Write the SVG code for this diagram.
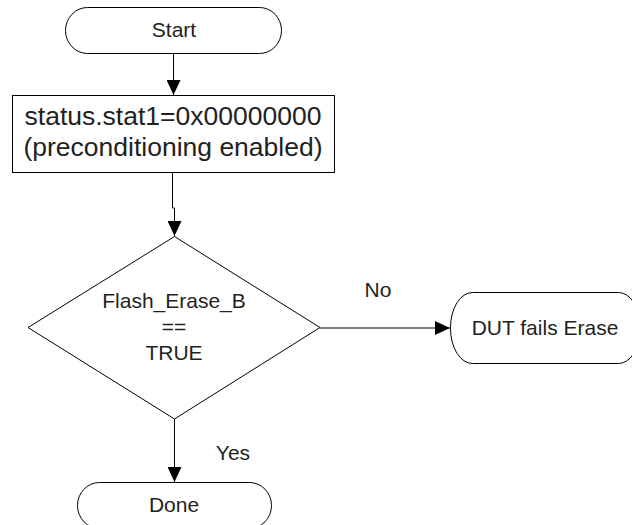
<svg xmlns="http://www.w3.org/2000/svg" width="632" height="525" viewBox="0 0 632 525">
<defs>
<style>
.shape{fill:#fff;stroke:#000;stroke-width:1}
.conn{fill:none;stroke:#000;stroke-width:1}
.t{font-family:"Liberation Sans",Arial,sans-serif;fill:#231f20;text-anchor:middle}
.s21{font-size:21px}
.s26{font-size:26.5px}
</style>
<marker id="arr" viewBox="0 0 15 14" refX="15" refY="7" markerWidth="15" markerHeight="14" markerUnits="userSpaceOnUse" orient="auto">
<path d="M0,0 L15,7 L0,14 Z" fill="#000"/>
</marker>
</defs>
<rect width="632" height="525" fill="#fff"/>
<g id="connectors">
<path class="conn" d="M173.5,53 V95" marker-end="url(#arr)"/>
<path class="conn" d="M172.5,173 V208 H174.5 V236" marker-end="url(#arr)"/>
<path class="conn" d="M174.5,419 V482" marker-end="url(#arr)"/>
<path class="conn" d="M320,328 H450" marker-end="url(#arr)"/>
<text class="t s21" x="378" y="297">No</text>
<text class="t s21" x="233" y="460">Yes</text>
</g>
<g id="start">
<rect class="shape" x="65.5" y="7.5" width="216" height="46" rx="22" ry="23"/>
<text class="t s21" x="174" y="37">Start</text>
</g>
<g id="status">
<rect class="shape" x="12.5" y="95.5" width="322" height="77"/>
<text class="t s26" x="173" y="125">status.stat1=0x00000000</text>
<text class="t s26" x="173" y="156">(preconditioning enabled)</text>
</g>
<g id="decision">
<polygon class="shape" points="174.5,236.5 320,327.5 174.5,419 28,327.5"/>
<text class="t s21" x="174" y="308">Flash_Erase_B</text>
<text class="t s21" x="174" y="334">==</text>
<text class="t s21" x="174" y="360">TRUE</text>
</g>
<g id="fail">
<rect class="shape" x="450.5" y="292.5" width="190" height="71" rx="22" ry="35"/>
<text class="t s21" x="545" y="335">DUT fails Erase</text>
</g>
<g id="done">
<rect class="shape" x="77.5" y="482.5" width="194" height="46" rx="22" ry="23"/>
<text class="t s21" x="174" y="512">Done</text>
</g>
</svg>
